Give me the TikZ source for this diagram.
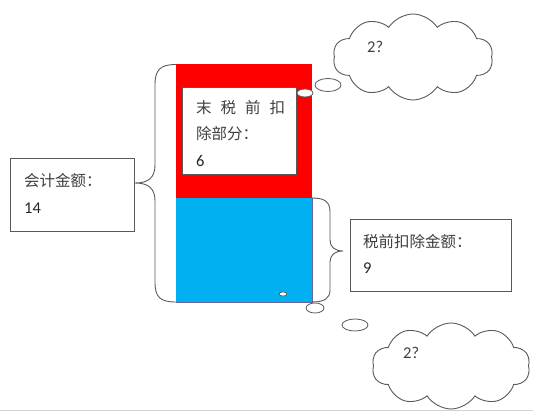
\documentclass[tikz,border=0pt]{standalone}
\usepackage{fontspec}
\newfontfamily\cjk{Noto Sans CJK SC}
\newfontfamily\numf{Carlito}
\usetikzlibrary{shapes.geometric,shapes.symbols}
\definecolor{txt}{HTML}{404040}
\definecolor{lin}{HTML}{595959}
\definecolor{skyb}{HTML}{00B0F0}
\tikzset{
  box/.style={draw=lin, line width=0.9pt, fill=white, minimum width=#1, inner sep=0pt},
  lbl/.style={anchor=west, inner sep=0pt, text=txt, font=\cjk\fontsize{15.5}{17}\selectfont},
  num/.style={anchor=west, inner sep=0pt, text=black!85, font=\numf\fontsize{16.5}{18}\selectfont},
  bubble/.style={draw=lin, line width=0.8pt, fill=white, ellipse, inner sep=0pt},
  thought/.style={draw=lin, line width=0.9pt, fill=white, cloud, cloud puffs=10, cloud puff arc=115, aspect=1.8, inner sep=0pt},
  brace/.style={draw=lin, line width=0.9pt},
}
\begin{document}
\begin{tikzpicture}[x=1pt,y=-1pt]
\useasboundingbox (0,0) rectangle (533,417);
% bottom gray line
\draw[gray!35, line width=1.5pt] (0,410.5) -- (533,410.5);
% column
\fill[red] (176,64) rectangle (312,198);
\fill[skyb] (176,198) rectangle (312,302);
\draw[gray!80!blue, line width=0.8pt] (312,198) -- (312,302) -- (176,302);
% inner white box
\node[box=114pt, minimum height=87pt] (inner) at (239,130.5) {};
\node[lbl] (t1) at (196,108) {末\hspace{9pt}税\hspace{9pt}前\hspace{9pt}扣};
\node[lbl] (t2) at (196,134) {除部分：};
\node[num] (t3) at (196,161) {6};
% left box
\node[box=124pt, minimum height=73pt] (lbox) at (72,194.5) {};
\node[lbl] (l1) at (24,181) {会计金额：};
\node[num] (l2) at (24,208) {14};
% right box
\node[box=161pt, minimum height=72pt] (rbox) at (430.5,255) {};
\node[lbl] (r1) at (363,242) {税前扣除金额：};
\node[num] (r2) at (363,268) {9};
% braces
\coordinate (lb) at (135,183);
\coordinate (rb) at (343,251);
\draw[brace] (176,64.5) .. controls (160,64.5) and (155,70) .. (155,85)
  -- (155,165) .. controls (155,178) and (148,183) .. (lb)
  .. controls (148,183) and (155,188) .. (155,201)
  -- (155,282) .. controls (155,297) and (160,302) .. (176,302);
\draw[brace] (312,198) .. controls (325,198) and (330,202) .. (330,212)
  -- (330,240) .. controls (330,247) and (335,251) .. (rb)
  .. controls (335,251) and (330,255) .. (330,262)
  -- (330,290) .. controls (330,298) and (325,302) .. (312,302);
% clouds
\node[thought, minimum width=160pt, minimum height=86pt] (c1) at (413,57) {};
\node[thought, minimum width=158pt, minimum height=86pt] (c2) at (451,366) {};
\node[num, text=txt] (q1) at (367,47) {2?};
\node[num, text=txt] (q2) at (403,353) {2?};
% bubbles
\node[bubble, minimum width=26pt, minimum height=13pt] (b2) at (328,85) {};
\node[bubble, minimum width=16pt, minimum height=8pt] (b1) at (305,93) {};
\node[bubble, minimum width=8pt, minimum height=4pt, line width=0.6pt] (b3) at (283,294) {};
\node[bubble, minimum width=18pt, minimum height=10pt] (b4) at (315,308) {};
\node[bubble, minimum width=26pt, minimum height=12pt] (b5) at (355,325) {};
\end{tikzpicture}
\end{document}
